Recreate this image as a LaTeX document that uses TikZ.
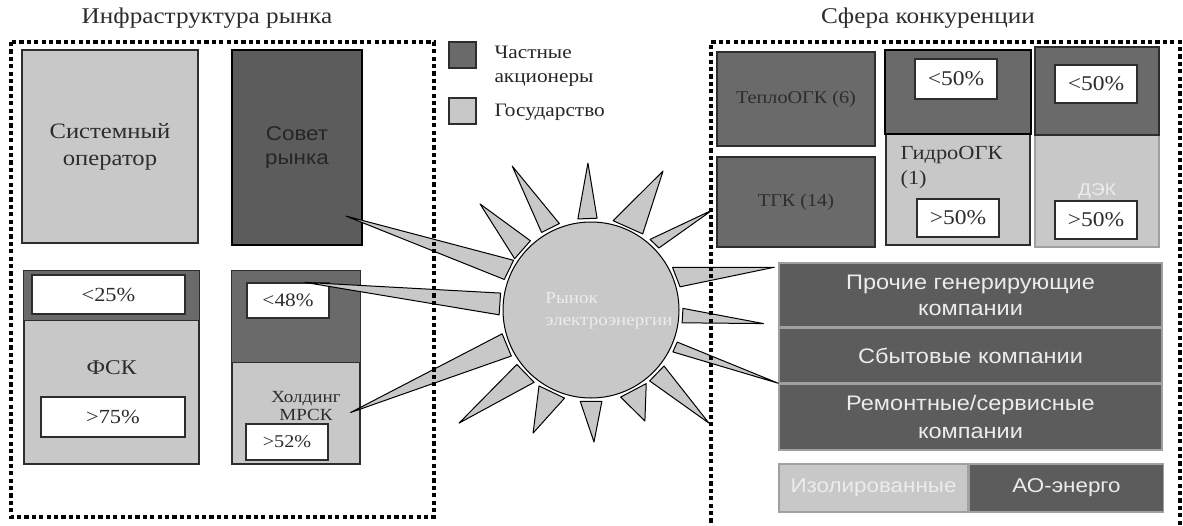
\documentclass[tikz,border=0pt]{standalone}
\usepackage{fontspec}
\setmainfont{Liberation Serif}[FakeStretch=1.12]
\setsansfont{Liberation Sans}[FakeStretch=1.12]
\usetikzlibrary{positioning,calc}

\definecolor{lightfill}{RGB}{200,200,200}
\definecolor{darkfill}{RGB}{106,106,106}
\definecolor{darkerfill}{RGB}{92,92,92}
\definecolor{inkgray}{RGB}{45,45,45}
\definecolor{rimgray}{RGB}{160,160,160}
\definecolor{palewhite}{RGB}{236,236,236}

\tikzset{
  box/.style={draw=inkgray, line width=1.2pt, inner sep=0pt, text=inkgray},
  lightbox/.style={box, fill=lightfill},
  darkbox/.style={box, fill=darkfill},
  pctbox/.style={box, fill=white, font=\fontsize{20}{24}\selectfont},
  stackbox/.style={draw=rimgray, line width=1.5pt, fill=darkerfill, text=palewhite,
    inner sep=0pt, align=center, minimum width=383, font=\sffamily\fontsize{21}{26}\selectfont},
  ray/.style={draw=black, line width=1pt, fill=lightfill, line join=round},
  frame/.style={line width=4.2pt, dash pattern=on 4.2pt off 3.2pt},
  heading/.style={font=\fontsize{22.5}{26}\selectfont, text=inkgray},
}

\begin{document}
\begin{tikzpicture}[x=1pt, y=-1pt]
    \useasboundingbox (0,0) rectangle (1183,525);

    % infrastructure side
    \node[heading] (infra) at (207,18) {Инфраструктура рынка};
    \node[lightbox, minimum width=176, minimum height=193, align=center,
          font=\fontsize{22}{27}\selectfont] (sysop) at (110,146.5) {Системный\\оператор};
    \node[box, fill=darkerfill, draw=black, line width=2.2pt, minimum width=130, minimum height=195,
          align=center, text=black!85, font=\sffamily\fontsize{20}{24}\selectfont] (council) at (297,147.5) {Совет\\рынка};

    \node[lightbox, minimum width=175, minimum height=193, font=\fontsize{21}{24}\selectfont] (fsk) at (111.5,367.5) {ФСК};
    \draw[darkbox] (fsk.north west) rectangle ($(fsk.north east)+(0,50)$);
    \node[pctbox, minimum width=153, minimum height=39] (fsklow) at (108.5,294.5) {<25\%};
    \node[pctbox, minimum width=144, minimum height=40] (fskhigh) at (113,417) {>75\%};

    \node[lightbox, minimum width=128, minimum height=193] (mrsk) at (296,367.5) {};
    \draw[darkbox] (mrsk.north west) rectangle ($(mrsk.north east)+(0,92)$);
    \node[pctbox, minimum width=82, minimum height=35, font=\fontsize{19}{23}\selectfont] (mrsklow) at (288,300.5) {<48\%};
    \node[align=center, text=inkgray, font=\fontsize{17}{18}\selectfont] (mrsklabel) at (306,406) {Холдинг\\МРСК};
    \node[pctbox, minimum width=82, minimum height=36, font=\fontsize{18}{22}\selectfont] (mrskhigh) at (287,442) {>52\%};

    % legend
    \node[darkbox, minimum width=27, minimum height=26] (keyprivate) at (462.5,55) {};
    \node[lightbox, minimum width=27, minimum height=26] (keystate) at (462.5,111) {};
    \node[anchor=west, align=left, text=black!85, font=\fontsize{19}{24}\selectfont] (keyprivatetext) at (491,66) {Частные\\акционеры};
    \node[anchor=west, text=black!85, font=\fontsize{19}{24}\selectfont] (keystatetext) at (491,112) {Государство};

    % competition side
    \node[heading] (compet) at (928,18) {Сфера конкуренции};
    \node[darkbox, minimum width=158, minimum height=94, font=\fontsize{18}{22}\selectfont] (teplo) at (796,99) {ТеплоОГК (6)};
    \node[darkbox, minimum width=158, minimum height=90, font=\fontsize{18}{22}\selectfont] (tgk) at (796,202) {ТГК (14)};

    \node[lightbox, minimum width=144, minimum height=194] (hydro) at (958,148) {};
    \draw[darkbox, draw=black, line width=2pt] (hydro.north west) rectangle ($(hydro.north east)+(0,84)$);
    \node[pctbox, minimum width=82, minimum height=40, font=\fontsize{21}{24}\selectfont] (hydrolow) at (956,79) {<50\%};
    \node[anchor=west, align=left, text=inkgray, font=\fontsize{20}{25}\selectfont] (hydrolabel) at (897,168) {ГидроОГК\\(1)};
    \node[pctbox, minimum width=82, minimum height=38, font=\fontsize{21}{24}\selectfont] (hydrohigh) at (958,218) {>50\%};

    \node[lightbox, draw=rimgray, line width=2pt, minimum width=124, minimum height=112, text=palewhite,
          font=\sffamily\fontsize{17}{20}\selectfont] (dek) at (1097,191) {ДЭК};
    \node[darkbox, minimum width=124, minimum height=88] (dekprivate) at (1097,91) {};
    \node[pctbox, minimum width=82, minimum height=38, font=\fontsize{21}{24}\selectfont] (deklow) at (1096,84) {<50\%};
    \node[pctbox, minimum width=82, minimum height=38, font=\fontsize{21}{24}\selectfont] (dekhigh) at (1096,220) {>50\%};

    \node[stackbox, minimum height=64] (prochie) at (970.5,295) {Прочие генерирующие\\компании};
    \node[stackbox, minimum height=54, below=0pt of prochie] (sbyt) {Сбытовые компании};
    \node[stackbox, minimum height=66, below=0pt of sbyt, font=\sffamily\fontsize{21}{28}\selectfont] (remont) {Ремонтные/сервисные\\компании};

    \node[stackbox, fill=lightfill, minimum width=189, minimum height=48, font=\sffamily\fontsize{20}{24}\selectfont] (isol) at (873.5,488) {Изолированные};
    \node[stackbox, minimum width=194, minimum height=48, right=0pt of isol, font=\sffamily\fontsize{20}{24}\selectfont] (aoenergo) {АО-энерго};

    % rays of the market
    \coordinate (sun) at (591,310);
    \coordinate (councilptr) at ($(council.south east)+(-17,-30)$);
    \coordinate (lowptr) at ($(mrsklow.north)+(17,0)$);
    \coordinate (holdptr) at ($(mrsk.east)+(-10,45)$);
    \coordinate (tgkptr) at ($(tgk.west)+(-4,8)$);
    \coordinate (prochieptr) at ($(prochie.north west)+(-4,5)$);
    \coordinate (remontptr) at (remont.north west);

    \foreach \a/\b/\t in {-160.6/-147.3/councilptr, 177/190.6/lowptr, 150/165/holdptr,
                          -50.1/-42.4/tgkptr, -27.6/-14.6/prochieptr, 20.4/27.1/remontptr}
        \draw[ray] ($(sun)+(\a:92)$) -- (\t) -- ($(sun)+(\b:92)$) -- cycle;

    \foreach \a/\b/\t/\r in {-122.5/-110.1/-118.7/164, -146.1/-131.2/-136.3/153.5,
                             -98.2/-86.2/-91.2/147, -76.1/-55.8/-62.6/156.5, -1/8/4.5/173,
                             37.5/50.4/43.8/163.4, 53.1/71.2/64.1/123.4, 83.2/96.7/88.7/132,
                             106.7/124.4/115.2/136, 128.2/143.7/139.4/173.8}
        \draw[ray] ($(sun)+(\a:92)$) -- ($(sun)+(\t:\r)$) -- ($(sun)+(\b:92)$) -- cycle;

    % dotted frames
    \draw[frame] (11,42) rectangle (434,517);
    \draw[frame] (711,530) -- (711,42) -- (1180,42) -- (1180,530);

    \node[circle, draw=black, line width=1pt, fill=lightfill, minimum size=176, inner sep=0pt] (market) at (sun) {};
    \node[align=left, text=palewhite, font=\fontsize{17}{22}\selectfont] (marketlabel) at (609,311) {Рынок\\электроэнергии};
\end{tikzpicture}
\end{document}
